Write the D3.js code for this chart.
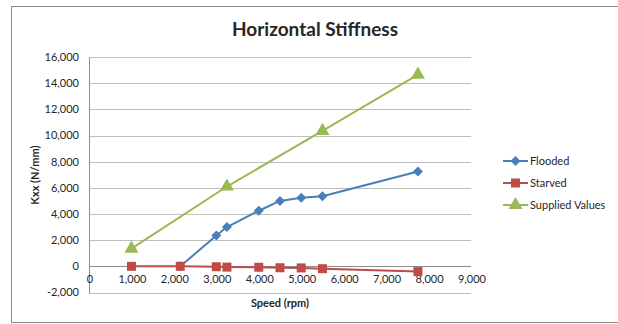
<!DOCTYPE html>
<html>
<head>
<meta charset="utf-8">
<script src="https://cdn.jsdelivr.net/npm/d3@7/dist/d3.min.js"></script>
<style>
  html, body { margin: 0; padding: 0; background: #fff; }
  svg { display: block; }
  text { font-family: Lato, "Open Sans", sans-serif; fill: #262626; }
</style>
</head>
<body>
<svg id="chart" width="618" height="324"></svg>
<script>
// Horizontal stiffness Kxx versus shaft speed
const chartTitle = "Horizontal Stiffness";
const xTitle = "Speed (rpm)";
const yTitle = "Kxx (N/mm)";

const floodedSpeed = [2150, 3000, 3250, 4000, 4500, 5000, 5500, 7750];
const floodedKxx   = [0, 2350, 3000, 4250, 5000, 5250, 5350, 7250];

const starvedSpeed = [1000, 2150, 3000, 3250, 4000, 4500, 5000, 5500, 7750];
const starvedKxx   = [0, 0, -30, -60, -70, -110, -120, -180, -400];

const suppliedSpeed = [1000, 3250, 5500, 7750];
const suppliedKxx   = [1350, 6100, 10350, 14650];

const xTicks = [0, 1000, 2000, 3000, 4000, 5000, 6000, 7000, 8000, 9000];
const yTicks = [-2000, 0, 2000, 4000, 6000, 8000, 10000, 12000, 14000, 16000];

const seriesNames  = ["Flooded", "Starved", "Supplied Values"];
const seriesColors = ["#4a7ebb", "#be4b48", "#98b954"];

// marker shapes: square-proportioned diamond, square, triangle
const diamond = {
  draw(ctx, size) {
    const r = Math.sqrt(size / 2);
    ctx.moveTo(0, -r); ctx.lineTo(r, 0); ctx.lineTo(0, r); ctx.lineTo(-r, 0); ctx.closePath();
  }
};
const seriesShapes = [diamond, d3.symbolSquare, d3.symbolTriangle];
const seriesSizes  = [50, 81, 85];

const svg = d3.select("#chart");
const fmt = v => d3.format(",")(v).replace("\u2212", "-");

// chart frame
svg.append("rect")
  .attr("x", 11.5).attr("y", 6.5)
  .attr("width", 700).attr("height", 316)
  .attr("fill", "#fff").attr("stroke", "#8c8c8c").attr("stroke-width", 1);

const x = d3.scaleLinear().domain([0, 9000]).range([89, 471]);
const y = d3.scaleLinear().domain([-2000, 16000]).range([292.5, 57]);

// horizontal gridlines
svg.append("g")
  .selectAll("line")
  .data(yTicks)
  .join("line")
  .attr("x1", x(0)).attr("x2", x(9000))
  .attr("y1", d => Math.round(y(d)) + 0.5)
  .attr("y2", d => Math.round(y(d)) + 0.5)
  .attr("stroke", "#bfbfbf").attr("stroke-width", 1);

// vertical axis line
svg.append("line")
  .attr("x1", Math.round(x(0)) + 0.5).attr("x2", Math.round(x(0)) + 0.5)
  .attr("y1", Math.round(y(16000)) + 0.5).attr("y2", Math.round(y(-2000)) + 0.5)
  .attr("stroke", "#8c8c8c");

// horizontal axis line at zero
svg.append("line")
  .attr("x1", x(0)).attr("x2", x(9000))
  .attr("y1", Math.round(y(0)) + 0.5).attr("y2", Math.round(y(0)) + 0.5)
  .attr("stroke", "#8c8c8c");

// y tick labels
svg.append("g")
  .selectAll("text")
  .data(yTicks)
  .join("text")
  .attr("x", 79)
  .attr("y", d => y(d))
  .attr("dy", "0.35em")
  .attr("text-anchor", "end")
  .attr("font-size", 11)
  .text(d => fmt(d));

// x tick labels (axis crosses at zero)
svg.append("g")
  .selectAll("text")
  .data(xTicks)
  .join("text")
  .attr("x", d => x(d) + 1)
  .attr("y", y(0) + 17)
  .attr("text-anchor", "middle")
  .attr("font-size", 11)
  .text(d => fmt(d));

// titles
svg.append("text")
  .attr("x", 315).attr("y", 36)
  .attr("text-anchor", "middle")
  .attr("font-size", 19).attr("font-weight", "bold")
  .attr("fill", "#000")
  .text(chartTitle);

svg.append("text")
  .attr("x", 280).attr("y", 307)
  .attr("text-anchor", "middle")
  .attr("font-size", 11).attr("font-weight", "bold")
  .text(xTitle);

svg.append("text")
  .attr("transform", "translate(39,175) rotate(-90)")
  .attr("text-anchor", "middle")
  .attr("font-size", 11).attr("font-weight", "bold")
  .text(yTitle);

// series
const series = [
  { xs: floodedSpeed, ys: floodedKxx },
  { xs: starvedSpeed, ys: starvedKxx },
  { xs: suppliedSpeed, ys: suppliedKxx }
];

const line = d3.line().x(d => x(d[0])).y(d => y(d[1]));

series.forEach((s, i) => {
  const pts = s.xs.map((v, j) => [v, s.ys[j]]);
  const g = svg.append("g");
  g.append("path")
    .attr("d", line(pts))
    .attr("fill", "none")
    .attr("stroke", seriesColors[i])
    .attr("stroke-width", 2)
    .attr("stroke-linejoin", "round");
  g.selectAll("path.mk")
    .data(pts)
    .join("path")
    .attr("class", "mk")
    .attr("transform", d => `translate(${x(d[0])},${y(d[1])})`)
    .attr("d", d3.symbol().type(seriesShapes[i]).size(seriesSizes[i]))
    .attr("fill", seriesColors[i]);
});

// legend
const legend = svg.append("g");
seriesNames.forEach((name, i) => {
  const ly = 161 + i * 22;
  legend.append("line")
    .attr("x1", 503).attr("x2", 528)
    .attr("y1", ly).attr("y2", ly)
    .attr("stroke", seriesColors[i]).attr("stroke-width", 2);
  legend.append("path")
    .attr("transform", `translate(515.5,${ly})`)
    .attr("d", d3.symbol().type(seriesShapes[i]).size(seriesSizes[i]))
    .attr("fill", seriesColors[i]);
  legend.append("text")
    .attr("x", 530).attr("y", ly)
    .attr("dy", "0.35em")
    .attr("font-size", 11)
    .text(name);
});
</script>
</body>
</html>
